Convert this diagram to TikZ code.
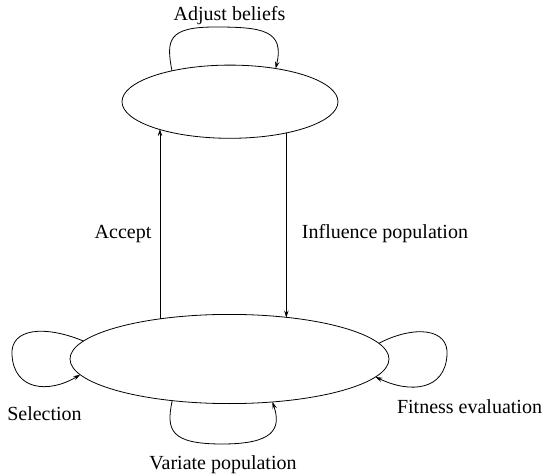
\documentclass[tikz,border=0pt]{standalone}
\usepackage{fontspec}
\setmainfont{Liberation Serif}
\usetikzlibrary{arrows.meta,shapes.geometric}
\begin{document}
\begin{tikzpicture}[x=1pt,y=-1pt,
  line width=0.8pt,
  oval/.style={draw, ellipse, inner sep=0pt, outer sep=0pt},
  lbl/.style={anchor=base, inner sep=0pt, font=\fontsize{20}{22}\selectfont},
  arr/.style={-{Stealth[length=7pt,width=4.5pt,inset=2.5pt]}}]
\useasboundingbox (0,0) rectangle (544,476);
% ellipses
\node[oval, minimum width=216pt, minimum height=73.2pt] (top) at (230,101.7) {};
\node[oval, minimum width=319pt, minimum height=89.2pt] (bot) at (229.5,359) {};
% vertical connectors
\draw[arr] (bot.150.4) -- (bot.150.4 |- top.201.24);
\draw[arr] (top.331.4) -- (top.331.4 |- bot.35.9);
% self loops
\draw[arr] (top.152.15) .. controls (166,40) and (168,27) .. (215,27)
  .. controls (262,27) and (285,30) .. (top.36.5);
\draw[arr] (bot.173.4) .. controls (45,325) and (10,328) .. (12,355)
  .. controls (14,390) and (48,394) .. (bot.186.1);
\draw[arr] (bot.6.6) .. controls (414,325) and (449,328) .. (447,355)
  .. controls (445,390) and (411,394) .. (bot.353.9);
\draw[arr] (bot.216.1) .. controls (166,430) and (170,444) .. (222,444)
  .. controls (272,444) and (282,430) .. (bot.315.8);
% labels
\node[lbl] (l1) at (229.5,20.5) {Adjust beliefs};
\node[lbl] (l2) at (123,239) {Accept};
\node[lbl] (l3) at (385,239) {Influence population};
\node[lbl] (l4) at (44.5,420) {Selection};
\node[lbl] (l5) at (469.5,413.5) {Fitness evaluation};
\node[lbl] (l6) at (223,469) {Variate population};
\end{tikzpicture}
\end{document}
